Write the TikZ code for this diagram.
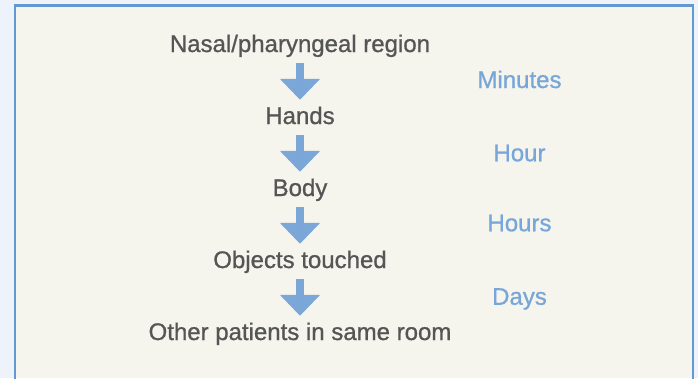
\documentclass[tikz,border=0pt]{standalone}
\usepackage{fontspec}
\setmainfont{Liberation Sans}
\newfontfamily\stagefont{Liberation Sans}[FakeBold=0.9]
\usepackage{xcolor}
\usetikzlibrary{positioning, arrows.meta}

\definecolor{pagebg}{HTML}{EEF2FA}
\definecolor{boxfill}{HTML}{F5F5EE}
\definecolor{boxline}{HTML}{6398D0}
\definecolor{arrowblue}{HTML}{7BA7D8}
\definecolor{timeblue}{HTML}{78A6D9}
\definecolor{textgray}{HTML}{555555}

\begin{document}
\begin{tikzpicture}[
    x=1bp, y=-1bp,
    node distance=72bp,
    on grid,
    stage/.style={inner sep=0pt, text height=17.5bp, text depth=5bp,
      text=textgray, font=\stagefont\fontsize{24bp}{28bp}\selectfont},
    delay/.style={stage, text=timeblue},
    flow/.style={color=arrowblue, line width=8bp,
      shorten <=6bp, shorten >=6.5bp,
      -{Triangle[width=39bp, length=21bp]}},
  ]

  \useasboundingbox (0,0) rectangle (698,378);
  \fill[pagebg] (0,0) rectangle (698,378);
  \fill[boxfill] (15,5.5) rectangle (693,378);
  \draw[boxline, line width=2.5bp] (15,380) -- (15,5.5) -- (693,5.5) -- (693,380);

  \node[stage] (nasal) at (300,45.75) {Nasal/pharyngeal region};
  \node[stage, below=of nasal] (hands) {Hands};
  \node[stage, below=of hands] (body) {Body};
  \node[stage, below=of body] (objects) {Objects touched};
  \node[stage, below=of objects] (others) {Other patients in same room};

  % time needed for each step
  \node[delay] (minutes) at (519.5,81.75) {Minutes};
  \node[delay] (hour) at (519.5,155) {Hour};
  \node[delay] (hours) at (519.5,225) {Hours};
  \node[delay] (days) at (519.5,298.5) {Days};

  \path
  (nasal)   edge [flow] (hands)
  (hands)   edge [flow] (body)
  (body)    edge [flow] (objects)
  (objects) edge [flow] (others);
\end{tikzpicture}
\end{document}
